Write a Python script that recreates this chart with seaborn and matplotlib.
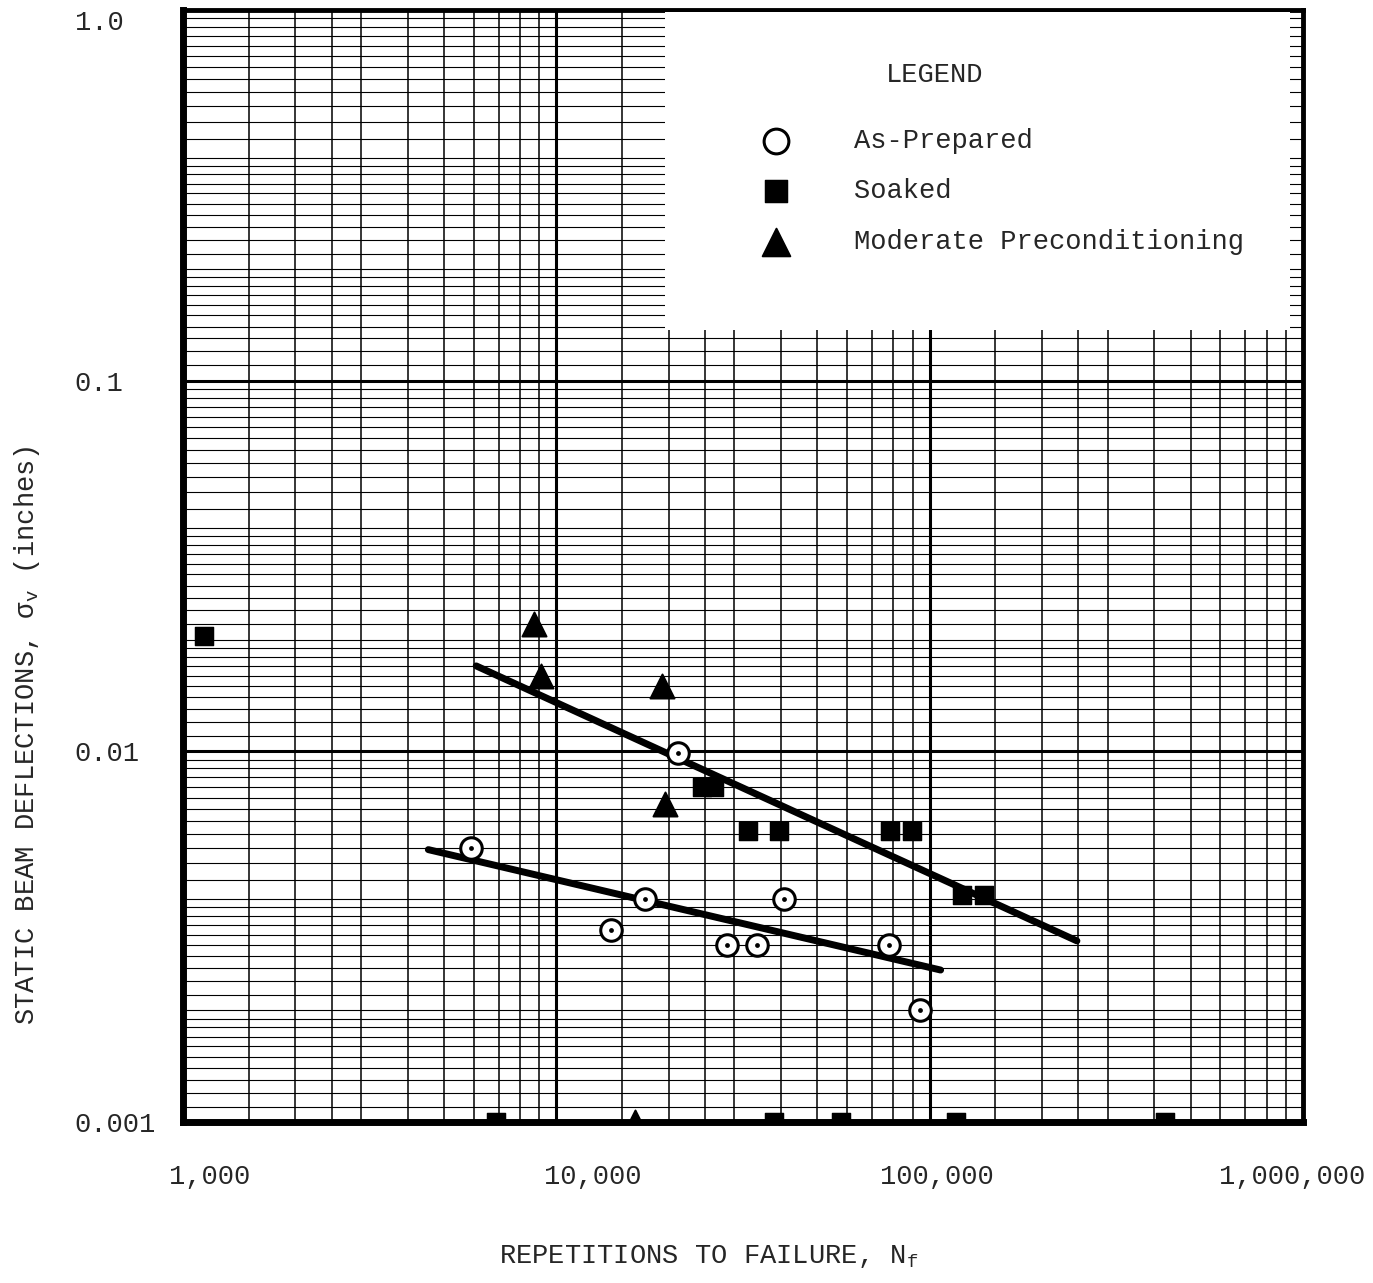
import matplotlib.pyplot as plt
import numpy as np
import seaborn as sns
from matplotlib.patches import Rectangle
from matplotlib.ticker import LogLocator, NullFormatter
from matplotlib.transforms import ScaledTranslation

# As-Prepared (open circles)
prep_n = [5900, 21200, 17300, 14000, 28600, 34400, 40600, 77600, 94000]
prep_d = [0.0055, 0.0099, 0.0040, 0.0033, 0.0030, 0.0030, 0.0040, 0.0030, 0.0020]

# Soaked (filled squares)
soak_n = [1140, 24600, 26400, 32700, 39600, 78200, 89500, 122000, 140000,
          6900, 38400, 57700, 118000, 427000]
soak_d = [0.0205, 0.0080, 0.0080, 0.0061, 0.0061, 0.0061, 0.0061, 0.0041, 0.0041,
          0.001, 0.001, 0.001, 0.001, 0.001]

# Moderate Preconditioning (filled triangles)
mod_n = [8700, 9100, 19200, 19500, 16200]
mod_d = [0.0221, 0.0160, 0.0150, 0.0072, 0.001]

# fitted lines, end points
upper_n = [6100, 248000]
upper_d = [0.0170, 0.00308]
lower_n = [4540, 107000]
lower_d = [0.00543, 0.00257]

x_ticks = [1000, 10000, 100000, 1000000]
x_labels = ['1,000', '10,000', '100,000', '1,000,000']
y_ticks = [0.001, 0.01, 0.1, 1.0]
y_labels = ['0.001', '0.01', '0.1', '1.0']

sns.set_theme(style='white')
plt.rcParams['font.family'] = ['Liberation Mono', 'DejaVu Sans']
plt.rcParams['mathtext.default'] = 'regular'
fs = 19.5

fig = plt.figure(figsize=(13.73, 12.83), dpi=100)
ax = fig.add_axes([0.1333, 0.1255, 0.8157, 0.8667])
ax.set_xscale('log')
ax.set_yscale('log')
ax.set_xlim(1000, 1000000)
ax.set_ylim(0.001, 1.0)

# graph paper grid
ax.xaxis.set_minor_locator(LogLocator(base=10, subs=[1.5, 2, 2.5, 3, 4, 5, 6, 7, 8, 9], numticks=100))
y_subs = np.concatenate([np.arange(1.1, 2.0, 0.1), np.arange(2.0, 4.0, 0.2), np.arange(4.0, 10.0, 0.5)])
ax.yaxis.set_minor_locator(LogLocator(base=10, subs=y_subs, numticks=200))
ax.xaxis.set_minor_formatter(NullFormatter())
ax.yaxis.set_minor_formatter(NullFormatter())
ax.grid(which='major', color='black', lw=2.2)
ax.grid(which='minor', axis='x', color='black', lw=1.1)
ax.grid(which='minor', axis='y', color='black', lw=0.8)
ax.set_axisbelow(True)

# white legend box
ax.add_patch(Rectangle((0.430, 0.712), 0.558, 0.286, transform=ax.transAxes,
                       facecolor='white', edgecolor='none', zorder=3))

sns.lineplot(x=upper_n, y=upper_d, color='black', lw=5, ax=ax, zorder=4)
sns.lineplot(x=lower_n, y=lower_d, color='black', lw=5, ax=ax, zorder=4)

sns.scatterplot(x=prep_n, y=prep_d, marker='o', s=240, color='white', edgecolor='black',
                linewidth=2.2, ax=ax, label='As-Prepared', zorder=5)
sns.scatterplot(x=prep_n, y=prep_d, marker='o', s=12, color='black', linewidth=0, ax=ax, zorder=6)
sns.scatterplot(x=soak_n, y=soak_d, marker='s', s=175, color='black', edgecolor='black',
                ax=ax, label='Soaked', zorder=5)
sns.scatterplot(x=mod_n, y=mod_d, marker='^', s=300, color='black', edgecolor='black',
                ax=ax, label='Moderate Preconditioning', zorder=5)

ax.text(0.671, 0.942, 'LEGEND', transform=ax.transAxes, ha='center', va='center',
        fontsize=fs, zorder=7)
leg = ax.legend(loc='upper left', bbox_to_anchor=(0.517, 0.894), frameon=False,
                fontsize=fs, handlelength=1.0, handletextpad=2.4, labelspacing=0.9,
                borderpad=0, borderaxespad=0, markerscale=1.15)
leg.set_zorder(8)

ax.set_xticks(x_ticks, x_labels)
ax.set_yticks(y_ticks, y_labels)
ax.tick_params(which='both', length=0)
ax.tick_params(axis='x', pad=30, labelsize=fs)
ax.tick_params(axis='y', pad=78, labelsize=fs)
for lbl in ax.get_yticklabels():
    lbl.set_ha('left')
ax.get_yticklabels()[-1].set_va('top')

# typed labels sit a little off their ticks
for lbl, dx in zip(ax.get_xticklabels(), [27, 36, 7, -11]):
    lbl.set_transform(lbl.get_transform() + ScaledTranslation(dx / 100, 0, fig.dpi_scale_trans))

ax.set_xlabel('REPETITIONS TO FAILURE, N$_f$', fontsize=fs)
ax.set_ylabel('STATIC BEAM DEFLECTIONS, σ$_v$ (inches)', fontsize=fs)
ax.xaxis.set_label_coords(0.469, -0.109)
ax.yaxis.set_label_coords(-0.126, 0.348)

for name, sp in ax.spines.items():
    sp.set_linewidth(5 if name in ('left', 'bottom') else 3.5)
    sp.set_color('black')

fig.savefig('out.png', dpi=100)
